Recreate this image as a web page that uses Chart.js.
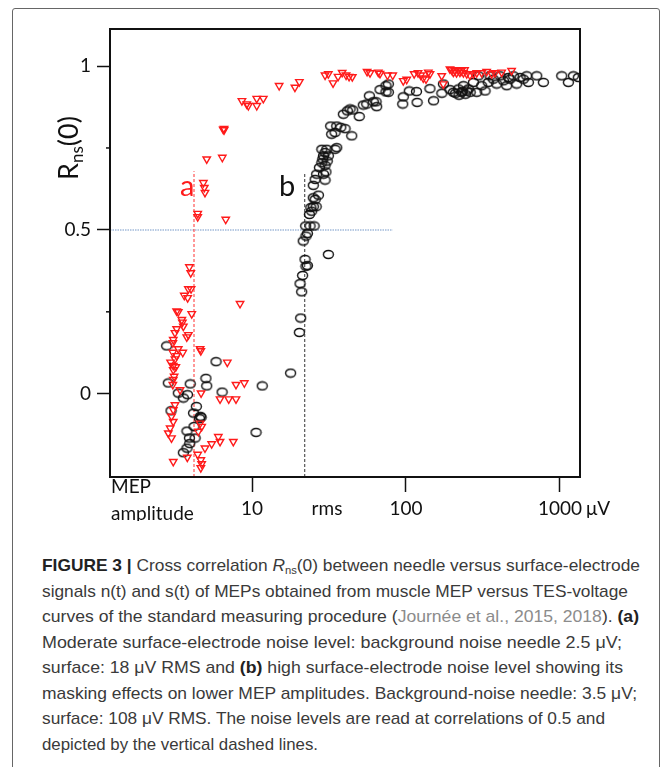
<!DOCTYPE html>
<html>
<head>
<meta charset="utf-8">
<script src="https://cdn.jsdelivr.net/npm/chart.js@4.4.1/dist/chart.umd.min.js"></script>
<style>
html,body{margin:0;padding:0;background:#fff;}
#page{position:relative;width:672px;height:767px;overflow:hidden;background:#fff;}
#frame{position:absolute;left:12px;top:8px;width:648px;height:800px;border:1px solid #666;border-radius:3px;box-sizing:border-box;}
#chartBox{position:absolute;left:0;top:0;width:672px;height:530px;}
#caption{position:absolute;left:42px;top:0;font-family:"Liberation Sans Narrow","Liberation Sans",sans-serif;font-size:17px;color:#3a3a3a;}
.ln{position:absolute;left:0;white-space:nowrap;line-height:20px;transform-origin:0 50%;}
.ln b{color:#222;}
.ln sub{font-size:11px;vertical-align:-3px;line-height:0;}
.ref{color:#8c8c8c;}
</style>
</head>
<body>
<div id="page">
  <div id="frame"></div>
  <div id="chartBox"><canvas id="chart" width="672" height="530"></canvas></div>
  <div id="caption">
    <div class="ln"><b>FIGURE 3 |</b> Cross correlation <i>R</i><sub>ns</sub>(0) between needle versus surface-electrode</div>
    <div class="ln">signals n(t) and s(t) of MEPs obtained from muscle MEP versus TES-voltage</div>
    <div class="ln">curves of the standard measuring procedure (<span class="ref">Journée et al., 2015, 2018</span>). <b>(a)</b></div>
    <div class="ln">Moderate surface-electrode noise level: background noise needle 2.5 μV;</div>
    <div class="ln">surface: 18 μV RMS and <b>(b)</b> high surface-electrode noise level showing its</div>
    <div class="ln">masking effects on lower MEP amplitudes. Background-noise needle: 3.5 μV;</div>
    <div class="ln">surface: 108 μV RMS. The noise levels are read at correlations of 0.5 and</div>
    <div class="ln">depicted by the vertical dashed lines.</div>
  </div>
</div>
<script>
// axes
const xRange = [1.196, 1349];
const yRange = [-0.254, 1.113];
const xTicks = [10, 100, 1000];
const yTicks = [0, 0.25, 0.5, 0.75, 1];
const yLabelled = [0, 0.5, 1];

// (a) moderate noise - red triangles
const redPoints = [
  [8.6,0.894],[9.24,0.884],[9.46,0.879],[10.73,0.901],[11.84,0.901],[10.73,0.879],
  [6.58,0.809],[6.58,0.805],[6.5,0.807],[5.08,0.716],[6.41,0.721],[4.83,0.644],
  [4.9,0.629],[4.95,0.614],[4.44,0.550],[4.44,0.540],[6.75,0.532],[3.92,0.387],[4.0,0.369],
  [15.0,0.940],[19.0,0.935],[20.3,0.952],[29.8,0.972],[31.3,0.976],[33.6,0.948],
  [36.2,0.968],[38.5,0.980],[40.8,0.972],[42.7,0.968],[44.8,0.967],[55.9,0.983],
  [58.4,0.979],[66.1,0.981],[67.8,0.977],[75.8,0.972],[82.0,0.972],[96,0.955],
  [101,0.959],[113,0.976],[119.7,0.979],[124.5,0.972],[129.5,0.963],[134.9,0.960],
  [139.6,0.981],[143.2,0.976],[170.6,0.970],[174.7,0.945],[193,0.991],[198,0.988],
  [203,0.981],[208,0.985],[213,0.979],[219,0.988],[224,0.981],[228,0.985],[236,0.979],
  [240,0.988],[248,0.976],[260,0.972],[274,0.976],[288,0.979],[310,0.979],[334,0.983],
  [360,0.976],[378,0.979],[418,0.981],[485,0.986],
  [3.86,0.320],[4.02,0.320],[3.63,0.300],[3.82,0.293],[8.36,0.275],[3.24,0.252],
  [3.32,0.250],[4.06,0.244],[3.50,0.226],[3.53,0.218],[3.58,0.206],[3.24,0.198],
  [3.16,0.186],[3.86,0.180],[3.77,0.173],[3.08,0.165],[3.06,0.155],[4.60,0.137],
  [4.65,0.131],[3.32,0.137],[3.55,0.126],[3.06,0.126],[3.24,0.116],[3.16,0.106],
  [2.96,0.096],[3.08,0.086],[3.20,0.082],[3.08,0.073],[6.91,0.096],[3.12,0.053],
  [3.08,0.043],[3.06,0.028],[7.87,0.028],[8.91,0.033],[3.41,0.012],[4.67,0.002],
  [6.2,-0.016],[7.06,-0.016],[7.87,-0.016],[3.16,-0.034],[3.08,-0.049],[3.0,-0.069],
  [3.08,-0.085],[2.94,-0.105],[2.86,-0.120],[3.0,-0.135],[4.60,-0.090],[4.71,-0.100],
  [4.48,-0.115],[6.04,-0.131],[6.2,-0.146],[7.56,-0.146],[5.47,-0.153],[4.95,-0.166],
  [4.44,-0.185],[3.80,-0.194],[3.08,-0.207],[4.65,-0.202],[4.71,-0.214],[4.65,-0.226]
];

// (b) high noise - black circles
const blackPoints = [
  [2.79,0.146],[5.84,0.098],[2.86,0.033],[3.97,0.030],[5.02,0.047],[5.08,0.024],
  [11.65,0.024],[3.32,0.002],[3.58,-0.013],[3.81,-0.003],[6.39,0.005],[2.98,-0.052],
  [4.35,-0.039],[4.17,-0.059],[4.62,-0.069],[4.56,-0.076],[4.67,-0.072],[4.20,-0.100],
  [3.78,-0.114],[3.92,-0.135],[4.27,-0.135],[3.94,-0.152],[3.78,-0.166],[3.58,-0.180],
  [10.62,-0.118],
  [17.8,0.063],[20.3,0.187],[20.7,0.231],[21.0,0.311],[20.5,0.336],[21.3,0.361],
  [22.4,0.389],[22.1,0.410],[22.9,0.391],[31.3,0.425],[21.5,0.466],[22.4,0.481],
  [22.9,0.489],[22.3,0.512],[23.8,0.512],[25.3,0.512],[23.6,0.547],[24.4,0.557],
  [25.0,0.571],[26.1,0.571],[24.1,0.568],[25.7,0.593],[27.0,0.606],[25.0,0.598],
  [25.0,0.636],[25.7,0.654],[26.3,0.670],[29.1,0.670],[29.8,0.652],[30.2,0.677],
  [27.4,0.690],[28.4,0.705],[28.8,0.716],[29.1,0.726],[29.8,0.736],[28.4,0.746],
  [30.6,0.746],[31.3,0.726],[30.8,0.710],[29.8,0.697],[34.6,0.746],[35.5,0.751],
  [32.9,0.792],[34.6,0.797],[32.4,0.817],[35.5,0.817],[37.7,0.813],[40.2,0.809],
  [44.4,0.787],[39.2,0.853],[41.6,0.863],[43.3,0.869],[45.1,0.866],[49.7,0.846],
  [52.8,0.881],[55.6,0.884],[57.8,0.909],[61.3,0.891],[63.9,0.891],[64.5,0.876],
  [67.8,0.928],[74.1,0.940],[76.8,0.945],[74.1,0.921],[76.8,0.920],[96,0.906],
  [95.2,0.884],[105,0.924],[117,0.922],[118,0.889],[143,0.931],[151,0.894],
  [171,0.917],[175,0.945],[193,0.928],[203,0.920],[219,0.930],[230,0.920],
  [236,0.940],[248,0.924],[261,0.920],[274,0.950],[288,0.920],[295,0.970],
  [310,0.940],[326,0.924],[342,0.950],[351,0.970],[369,0.960],[388,0.945],
  [408,0.970],[429,0.955],[451,0.940],[462,0.965],[473,0.960],[498,0.970],
  [523,0.945],[550,0.965],[578,0.960],[608,0.970],[623,0.950],[706,0.970],
  [780,0.950],[1026,0.970],[1133,0.950],[1222,0.970],[1315,0.965],
  [210,0.917],[221,0.911],[232,0.923],[243,0.914],[254,0.930]
];

// reference lines
const halfLevel = [[1.196,0.5],[82,0.5]];
const noiseA = [[4.2,-0.254],[4.2,0.679]];
const noiseB = [[22,-0.254],[22,0.676]];
const noteA = [3.8, 0.602];
const noteB = [16.9, 0.602];

const captionWidths = [598, 586, 597, 580, 581, 595, 563, 276];
const captionTop = 566, captionStep = 25.5;

const toXY = arr => arr.map(p => ({x: p[0], y: p[1]}));

function ring() {
  const c = document.createElement('canvas');
  c.width = 13; c.height = 11;
  const g = c.getContext('2d');
  g.strokeStyle = '#111';
  g.lineWidth = 1.4;
  g.beginPath();
  g.ellipse(6.5, 5.5, 5, 4, 0, 0, Math.PI * 2);
  g.stroke();
  return c;
}

const decor = {
  id: 'decor',
  afterDatasetsDraw(chart) {
    const {ctx, chartArea: a, scales: {x, y}} = chart;
    ctx.save();
    ctx.strokeStyle = '#111';
    ctx.lineWidth = 2;
    ctx.strokeRect(a.left, a.top, a.right - a.left, a.bottom - a.top);
    ctx.lineWidth = 1.5;
    yTicks.filter(v => !yLabelled.includes(v)).forEach(v => {
      const py = y.getPixelForValue(v);
      ctx.beginPath(); ctx.moveTo(a.left - 4, py); ctx.lineTo(a.left, py); ctx.stroke();
    });
    ctx.font = '29px Lato';
    ctx.textAlign = 'center';
    ctx.textBaseline = 'alphabetic';
    ctx.fillStyle = '#ff1a1a';
    ctx.fillText('a', x.getPixelForValue(noteA[0]), y.getPixelForValue(noteA[1]));
    ctx.fillStyle = '#111';
    ctx.fillText('b', x.getPixelForValue(noteB[0]), y.getPixelForValue(noteB[1]));
    ctx.restore();
  },
  afterDraw(chart) {
    const {ctx, chartArea: a, scales: {x}} = chart;
    ctx.save();
    ctx.fillStyle = '#111';
    ctx.font = '19px Lato';
    ctx.textBaseline = 'alphabetic';
    ctx.textAlign = 'center';
    ctx.fillText('rms', 327, 515);
    ctx.textAlign = 'left';
    ctx.fillText('μV', x.getPixelForValue(1000) + 26, 515);
    ctx.fillText('MEP', a.left + 1, 493);
    ctx.save();
    ctx.beginPath(); ctx.rect(0, 0, 672, 521); ctx.clip();
    ctx.fillText('amplitude', a.left + 1, 519.5);
    ctx.restore();
    // y title R_ns(0)
    ctx.translate(78, 148);
    ctx.rotate(-Math.PI / 2);
    const big = '27px Lato', small = '17px Lato';
    ctx.font = big; const wR = ctx.measureText('R').width, w0 = ctx.measureText('(0)').width;
    ctx.font = small; const wn = ctx.measureText('ns').width;
    let u = -(wR + wn + w0) / 2;
    ctx.font = big; ctx.fillText('R', u, 0); u += wR;
    ctx.font = small; ctx.fillText('ns', u, 5); u += wn;
    ctx.font = big; ctx.fillText('(0)', u, 0);
    ctx.restore();
  }
};

new Chart(document.getElementById('chart'), {
  type: 'scatter',
  data: {
    datasets: [
      {data: toXY(redPoints), pointStyle: 'triangle', rotation: 180, pointRadius: 4.3,
       borderColor: '#ff1a1a', backgroundColor: 'rgba(0,0,0,0)', borderWidth: 1.4},
      {data: toXY(blackPoints), pointStyle: ring(), pointRadius: 5,
       borderColor: '#111', backgroundColor: 'rgba(0,0,0,0)'},
      {data: toXY(noiseA), showLine: true, pointRadius: 0, borderColor: '#ff3030',
       borderWidth: 1, borderDash: [3, 2]},
      {data: toXY(noiseB), showLine: true, pointRadius: 0, borderColor: '#333',
       borderWidth: 1, borderDash: [3, 2]},
      {data: toXY(halfLevel), showLine: true, pointRadius: 0, borderColor: '#b9cbe3',
       borderWidth: 2, borderDash: [1.5, 1]}
    ]
  },
  options: {
    responsive: false,
    animation: false,
    events: [],
    layout: {padding: {top: 29, right: 92, bottom: 13, left: 0}},
    plugins: {legend: {display: false}, tooltip: {enabled: false}},
    scales: {
      x: {
        type: 'logarithmic', min: xRange[0], max: xRange[1],
        afterBuildTicks: s => { s.ticks = xTicks.map(v => ({value: v})); },
        afterFit: s => { s.height = 40; },
        border: {display: false},
        grid: {drawOnChartArea: false, tickLength: 15, tickColor: '#111', tickWidth: 1.5},
        ticks: {callback: v => String(v), color: '#111', font: {family: 'Lato', size: 19},
                padding: 5, maxRotation: 0, autoSkip: false}
      },
      y: {
        min: yRange[0], max: yRange[1],
        afterBuildTicks: s => { s.ticks = yTicks.map(v => ({value: v})); },
        afterFit: s => { s.width = 110; },
        border: {display: false},
        grid: {drawOnChartArea: false, tickLength: 13, tickWidth: 1.5,
               tickColor: c => (c.tick && yLabelled.includes(c.tick.value)) ? '#111' : 'rgba(0,0,0,0)'},
        ticks: {callback: v => yLabelled.includes(v) ? String(v) : '', color: '#111',
                font: {family: 'Lato', size: 19}, padding: 6, autoSkip: false}
      }
    }
  },
  plugins: [decor]
});

function fitCaption() {
  document.querySelectorAll('#caption .ln').forEach((el, i) => {
    el.style.top = (captionTop + i * captionStep - 10) + 'px';
    el.style.transform = 'none';
    const w = el.getBoundingClientRect().width;
    el.style.transform = 'scaleX(' + (captionWidths[i] / w) + ')';
  });
}
fitCaption();
if (document.fonts) document.fonts.ready.then(fitCaption);
</script>
</body>
</html>
